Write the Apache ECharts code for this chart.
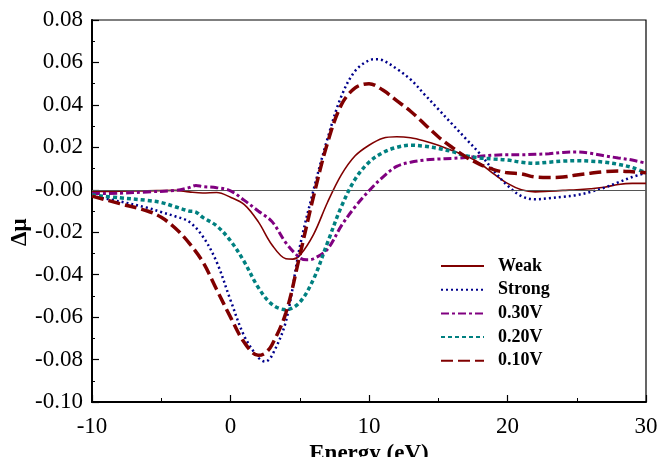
<!DOCTYPE html>
<html>
<head>
<meta charset="utf-8">
<script src="https://cdn.jsdelivr.net/npm/echarts@6/dist/echarts.min.js"></script>
<style>html,body{margin:0;padding:0;background:#fff}#c{width:660px;height:457px}</style>
</head>
<body>
<div id="c"></div>
<script>
// Data (x in eV, y = delta mu)
const seriesNames = ['Weak', 'Strong', '0.30V', '0.20V', '0.10V'];
const weak = [[-10,-0.0008],[-8,-0.0007],[-6,-0.0005],[-4,-0.0003],[-3,-0.001],[-2,-0.0015],[-1,-0.0013],[0,-0.0035],[1,-0.007],[2,-0.015],[3,-0.026],[4,-0.0325],[4.5,-0.0327],[5,-0.031],[6,-0.021],[7,-0.006],[8,0.007],[9,0.016],[10,0.021],[11,0.0243],[12,0.025],[13,0.0245],[14,0.023],[15,0.021],[16,0.0185],[17,0.016],[18,0.0125],[19,0.0075],[20,0.003],[21,0.0],[22,-0.001],[23,-0.0007],[24,-0.0003],[25,0.0],[26,0.0005],[27,0.0012],[28,0.0025],[29,0.003],[30,0.003]];
const strong = [[-10,-0.003],[-8,-0.0055],[-6,-0.0085],[-5,-0.0105],[-4,-0.0125],[-3,-0.015],[-2,-0.022],[-1,-0.034],[0,-0.052],[1,-0.069],[2,-0.079],[2.5,-0.081],[3,-0.078],[4,-0.062],[5,-0.027],[6,0.0],[7,0.024],[8,0.044],[9,0.056],[10,0.061],[10.5,0.0615],[11,0.061],[12,0.057],[13,0.052],[14,0.045],[15,0.038],[16,0.031],[17,0.024],[18,0.017],[19,0.009],[20,0.002],[21,-0.003],[22,-0.0045],[23,-0.004],[24,-0.0033],[25,-0.0025],[26,-0.001],[27,0.001],[28,0.0035],[29,0.006],[30,0.008]];
const v030 = [[-10,-0.0018],[-8,-0.0016],[-6,-0.001],[-4,-0.0003],[-3,0.001],[-2.5,0.002],[-2,0.0015],[-1,0.001],[0,-0.0005],[1,-0.005],[2,-0.010],[3,-0.015],[4,-0.025],[5,-0.032],[5.5,-0.033],[6,-0.0325],[7,-0.028],[8,-0.017],[9,-0.008],[10,-0.0005],[11,0.006],[12,0.011],[13,0.013],[14,0.014],[15,0.0145],[16,0.0148],[17,0.0152],[18,0.0158],[19,0.0163],[20,0.0165],[21,0.0165],[22,0.0167],[23,0.017],[24,0.0176],[25,0.0178],[26,0.0172],[27,0.016],[28,0.015],[29,0.014],[30,0.0125]];
const v020 = [[-10,-0.0025],[-8,-0.0038],[-6,-0.005],[-5,-0.006],[-4,-0.008],[-3,-0.010],[-2.5,-0.0105],[-2,-0.013],[-1,-0.017],[0,-0.024],[1,-0.034],[2,-0.046],[3,-0.054],[4,-0.0565],[5,-0.053],[6,-0.042],[7,-0.025],[8,-0.008],[9,0.005],[10,0.013],[11,0.0175],[12,0.020],[13,0.021],[14,0.0205],[15,0.0195],[16,0.018],[17,0.016],[18,0.015],[19,0.0145],[20,0.014],[21,0.013],[22,0.0125],[23,0.013],[24,0.0135],[25,0.0137],[26,0.0135],[27,0.013],[28,0.012],[29,0.0105],[30,0.008]];
const v010 = [[-10,-0.003],[-8,-0.0065],[-6,-0.010],[-5,-0.013],[-4,-0.018],[-3,-0.025],[-2,-0.034],[-1,-0.047],[0,-0.060],[1,-0.072],[2,-0.078],[2.5,-0.077],[3,-0.073],[4,-0.058],[5,-0.031],[6,-0.003],[7,0.022],[8,0.040],[9,0.048],[10,0.050],[11,0.047],[12,0.042],[13,0.037],[14,0.031],[15,0.025],[16,0.020],[17,0.0155],[18,0.012],[19,0.0095],[20,0.008],[21,0.0075],[22,0.006],[23,0.0058],[24,0.006],[25,0.007],[26,0.0078],[27,0.0085],[28,0.0088],[29,0.0085],[30,0.008]];
const xTicks = {min: -10, max: 30, step: 10};
const yTicks = {min: -0.10, max: 0.08, step: 0.02};

const FONT = '"Liberation Serif", "Times New Roman", serif';
const chart = echarts.init(document.getElementById('c'));

function mk(name, data, color, width, type, z) {
  return {
    name, type: 'line', data, smooth: 0.35, showSymbol: false, symbol: 'none', z,
    lineStyle: {color, width, type, cap: 'butt'}, itemStyle: {color}
  };
}

const series = [
  mk(seriesNames[0], weak, '#800000', 1.6, 'solid', 3),
  mk(seriesNames[1], strong, '#00008b', 2.5, [2, 3], 4),
  mk(seriesNames[2], v030, '#800080', 3, [8, 3, 3, 3], 5),
  mk(seriesNames[3], v020, '#008080', 3.5, [4, 3], 6),
  mk(seriesNames[4], v010, '#800000', 3.5, [12, 5], 7)
];
series[0].markLine = {
  silent: true, symbol: 'none', label: {show: false},
  lineStyle: {color: '#555', width: 1.2, type: 'solid'},
  data: [{yAxis: 0}]
};

chart.setOption({
  animation: false,
  backgroundColor: '#fff',
  grid: {left: 92, right: 14, top: 20, bottom: 55, outerBoundsMode: 'none', containLabel: false,
    show: true, borderColor: '#000', borderWidth: 1.2, backgroundColor: 'transparent'},
  legend: {
    orient: 'vertical', left: 440, top: 257, padding: 0, itemWidth: 43, itemHeight: 14, itemGap: 5.7,
    itemStyle: {opacity: 0},
    textStyle: {fontFamily: FONT, fontSize: 18, fontWeight: 'bold', color: '#000', padding: [0, 0, 0, 9]},
    data: seriesNames
  },
  xAxis: {
    type: 'value', min: xTicks.min, max: xTicks.max, interval: xTicks.step,
    name: 'Energy (eV)', nameLocation: 'middle', nameGap: 34,
    nameTextStyle: {fontFamily: FONT, fontSize: 23, fontWeight: 'bold', color: '#000'},
    axisLine: {show: true, onZero: false, lineStyle: {color: '#000', width: 2}},
    axisTick: {show: true, inside: true, length: 7, lineStyle: {color: '#000', width: 1.2}},
    minorTick: {show: true, splitNumber: 2, length: 4, lineStyle: {color: '#000', width: 1}},
    splitLine: {show: false},
    axisLabel: {fontFamily: FONT, fontSize: 23, color: '#000', margin: 13}
  },
  yAxis: {
    type: 'value', min: yTicks.min, max: yTicks.max, interval: yTicks.step,
    axisLine: {show: true, onZero: false, lineStyle: {color: '#000', width: 2}},
    axisTick: {show: true, inside: true, length: 7, lineStyle: {color: '#000', width: 1.2}},
    minorTick: {show: true, splitNumber: 2, length: 3, lineStyle: {color: '#000', width: 1}},
    splitLine: {show: false},
    axisLabel: {fontFamily: FONT, fontSize: 23, color: '#000', margin: 9, padding: [16, 0, 0, 0],
      formatter: v => Math.abs(v) < 1e-9 ? '-0.00' : v.toFixed(2)}
  },
  graphic: [{
    type: 'text', x: 9, y: 246, rotation: Math.PI / 2,
    style: {text: 'Δμ', fontFamily: FONT, fontSize: 23, fontWeight: 'bold', fill: '#000'}
  }],
  series
});
</script>
</body>
</html>
